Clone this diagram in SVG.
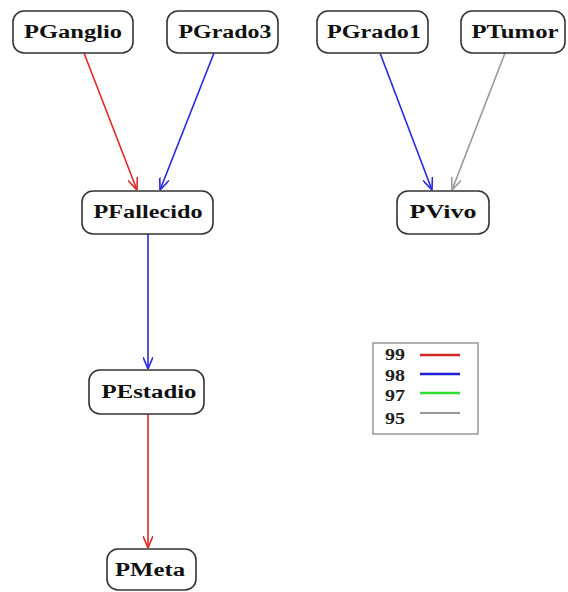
<svg xmlns="http://www.w3.org/2000/svg" width="568" height="592" viewBox="0 0 568 592">
<style>
.box{fill:#fff;stroke:#333;stroke-width:1.6}
.lbl{font-family:"Liberation Serif","Times New Roman",serif;font-weight:bold;font-size:18px;fill:#111;text-anchor:middle}
.leg{font-family:"Liberation Serif","Times New Roman",serif;font-weight:bold;font-size:17px;fill:#222}
.e{fill:none;stroke-width:1.6}
.red{stroke:#e02828}
.blue{stroke:#2828e0}
.gray{stroke:#999}
.green{stroke:#30e030}
</style>
<defs>
<marker id="ar" viewBox="0 0 12 10" refX="12" refY="5" markerWidth="12" markerHeight="10" markerUnits="userSpaceOnUse" orient="auto"><path d="M0,0 L12,5 L0,10" fill="none" stroke="context-stroke" stroke-width="1.6"/></marker>
<marker id="arR" viewBox="0 0 12 10" refX="12" refY="5" markerWidth="12" markerHeight="10" markerUnits="userSpaceOnUse" orient="auto"><path d="M0,0 L12,5 L0,10" fill="none" stroke="#e02828" stroke-width="1.6"/></marker>
<marker id="arB" viewBox="0 0 12 10" refX="12" refY="5" markerWidth="12" markerHeight="10" markerUnits="userSpaceOnUse" orient="auto"><path d="M0,0 L12,5 L0,10" fill="none" stroke="#2828e0" stroke-width="1.6"/></marker>
<marker id="arG" viewBox="0 0 12 10" refX="12" refY="5" markerWidth="12" markerHeight="10" markerUnits="userSpaceOnUse" orient="auto"><path d="M0,0 L12,5 L0,10" fill="none" stroke="#999" stroke-width="1.6"/></marker>
</defs>
<rect width="568" height="592" fill="#fff"/>
<g id="edges">
<line class="e red" x1="84" y1="53" x2="137" y2="190" marker-end="url(#arR)"/>
<line class="e blue" x1="214" y1="53" x2="160" y2="190" marker-end="url(#arB)"/>
<line class="e blue" x1="380" y1="53" x2="432" y2="190" marker-end="url(#arB)"/>
<line class="e gray" x1="505" y1="53" x2="452" y2="190" marker-end="url(#arG)"/>
<line class="e blue" x1="148" y1="234" x2="148" y2="369" marker-end="url(#arB)"/>
<line class="e red" x1="148" y1="414" x2="148" y2="548" marker-end="url(#arR)"/>
</g>
<g id="PGanglio"><rect class="box" x="13" y="11" width="120" height="42" rx="11"/><text class="lbl" x="73" y="38" textLength="98" lengthAdjust="spacingAndGlyphs">PGanglio</text></g>
<g id="PGrado3"><rect class="box" x="167" y="11" width="111" height="42" rx="11"/><text class="lbl" x="225" y="38" textLength="93" lengthAdjust="spacingAndGlyphs">PGrado3</text></g>
<g id="PGrado1"><rect class="box" x="317" y="11" width="111" height="42" rx="11"/><text class="lbl" x="374" y="38" textLength="94" lengthAdjust="spacingAndGlyphs">PGrado1</text></g>
<g id="PTumor"><rect class="box" x="461" y="11" width="104" height="42" rx="11"/><text class="lbl" x="515" y="38" textLength="87" lengthAdjust="spacingAndGlyphs">PTumor</text></g>
<g id="PFallecido"><rect class="box" x="82" y="191" width="131" height="43" rx="11"/><text class="lbl" x="148" y="218" textLength="109" lengthAdjust="spacingAndGlyphs">PFallecido</text></g>
<g id="PVivo"><rect class="box" x="397" y="191" width="92" height="43" rx="11"/><text class="lbl" x="443" y="218" textLength="67" lengthAdjust="spacingAndGlyphs">PVivo</text></g>
<g id="PEstadio"><rect class="box" x="89" y="370" width="115" height="44" rx="11"/><text class="lbl" x="149" y="398" textLength="95" lengthAdjust="spacingAndGlyphs">PEstadio</text></g>
<g id="PMeta"><rect class="box" x="107" y="549" width="89" height="41" rx="11"/><text class="lbl" x="150" y="576" textLength="70" lengthAdjust="spacingAndGlyphs">PMeta</text></g>
<g id="legend">
<rect x="373" y="343" width="105" height="91" fill="#fff" stroke="#888" stroke-width="1.3"/>
<text class="leg" x="385" y="360" textLength="20" lengthAdjust="spacingAndGlyphs">99</text>
<text class="leg" x="385" y="381" textLength="20" lengthAdjust="spacingAndGlyphs">98</text>
<text class="leg" x="385" y="401" textLength="20" lengthAdjust="spacingAndGlyphs">97</text>
<text class="leg" x="385" y="424" textLength="20" lengthAdjust="spacingAndGlyphs">95</text>
<line x1="420" y1="355" x2="460" y2="355" stroke="#d02828" stroke-width="2.4"/>
<line x1="420" y1="374" x2="460" y2="374" stroke="#2020d0" stroke-width="2.4"/>
<line x1="420" y1="393" x2="460" y2="393" stroke="#30e030" stroke-width="2.4"/>
<line x1="420" y1="413" x2="460" y2="413" stroke="#999" stroke-width="2"/>
</g>
</svg>
